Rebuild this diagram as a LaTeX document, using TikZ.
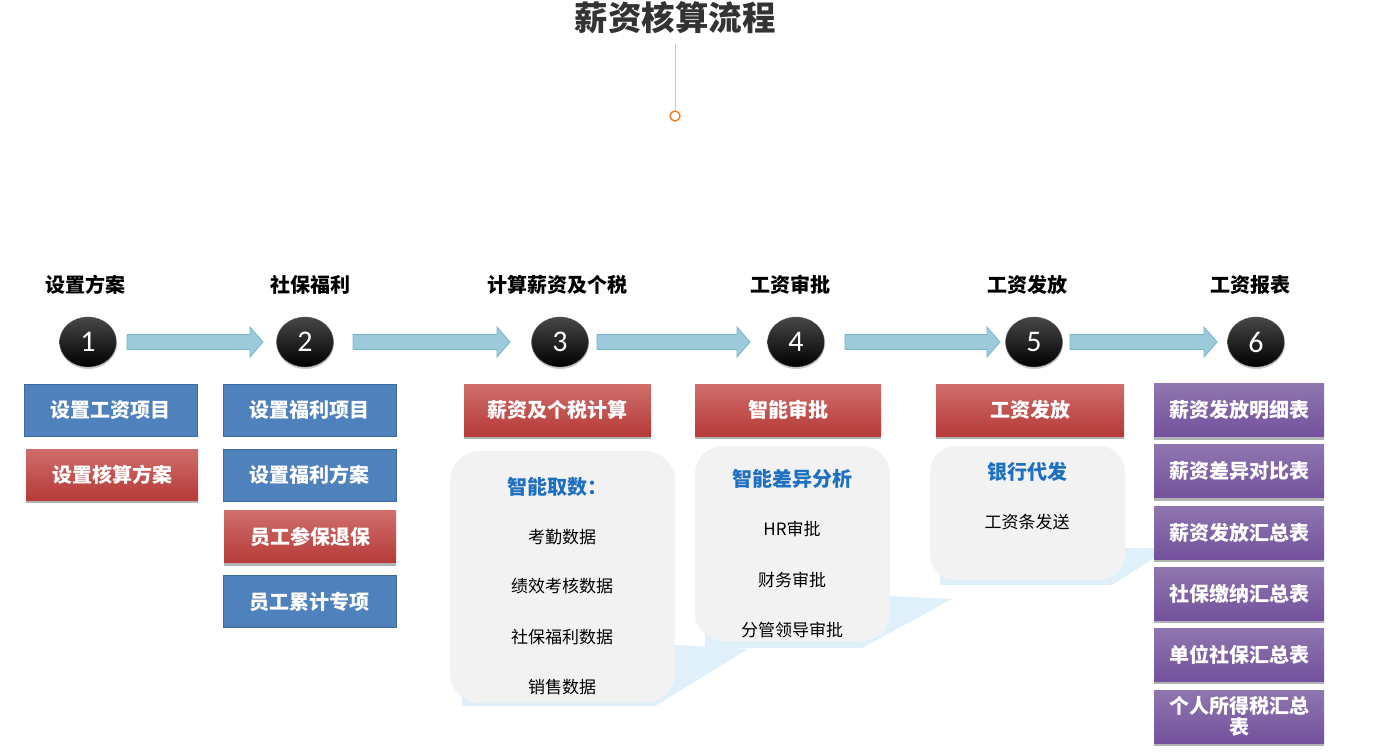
\documentclass[tikz,border=0pt]{standalone}
\usepackage{fontspec}
\setmainfont{Noto Sans CJK SC}
\newfontfamily\digitfont{Carlito}
\usetikzlibrary{shadows,calc,shapes.geometric}
\definecolor{titlegray}{HTML}{333333}
\definecolor{bluefill}{HTML}{4F81BD}
\definecolor{bluedraw}{HTML}{3C6A9F}
\definecolor{redtop}{HTML}{CF6E6C}
\definecolor{redbot}{HTML}{B63A38}
\definecolor{purtop}{HTML}{9076AF}
\definecolor{purbot}{HTML}{73519C}
\definecolor{greyfill}{HTML}{F2F2F2}
\definecolor{itemblue}{HTML}{1F70C1}
\definecolor{arrowfill}{HTML}{9DCADB}
\definecolor{arrowdraw}{HTML}{78B6CC}
\definecolor{swoosh}{HTML}{E0F0FB}
\definecolor{dotorange}{HTML}{F07A22}
\newcommand\blockarrow[2]{%
  \fill[arrowfill,draw=arrowdraw,line width=0.8pt] let \p1=(#1), \p2=(#2) in
    (\x1,\y1+7.5) -- (\x2-13,\y1+7.5) -- (\x2-13,\y1+15) -- (\x2,\y1) --
    (\x2-13,\y1-15) -- (\x2-13,\y1-7.5) -- (\x1,\y1-7.5) -- cycle;}
\begin{document}
\begin{tikzpicture}[x=1pt,y=-1pt,
  boxtext/.style={text=white,font=\bfseries\fontsize{20}{23}\selectfont,inner sep=0pt,align=center},
  bluebox/.style={boxtext,draw=bluedraw,fill=bluefill,line width=0.8pt},
  redbox/.style={boxtext,top color=redtop,bottom color=redbot,
    drop shadow={shadow xshift=0.3pt,shadow yshift=-3pt,opacity=0.3,fill=black}},
  purbox/.style={boxtext,top color=purtop,bottom color=purbot,
    drop shadow={shadow xshift=0.3pt,shadow yshift=-3pt,opacity=0.3,fill=black}},
  greybox/.style={fill=greyfill,draw=none,inner sep=0pt},
  heading/.style={font=\bfseries\fontsize{20}{23}\selectfont,text=black},
  bluehead/.style={font=\bfseries\fontsize{20}{23}\selectfont,text=itemblue},
  item/.style={font=\fontsize{17}{20}\selectfont,text=black},
  stepcirc/.style={ellipse,minimum width=57,minimum height=50,inner sep=0pt,
    top color=black!72,middle color=black,bottom color=black,draw=black!60,line width=0.4pt,
    text=white,font=\digitfont\fontsize{30}{30}\selectfont,
    drop shadow={shadow xshift=0.3pt,shadow yshift=-2pt,opacity=0.2,fill=black}}
]
\useasboundingbox (0,0) rectangle (1380,754);
\fill[white] (0,0) rectangle (1380,754);

% title
\node[font=\bfseries\fontsize{33.5}{37}\selectfont,text=titlegray] (title) at (675,18) {薪资核算流程};
\node[circle,draw=dotorange,fill=white,line width=1.4pt,minimum size=10,inner sep=0pt] (dot) at (675,116) {};
\draw[black!22,line width=0.8pt] (dot.north) -- ++(0,-66);

% light blue swooshes
\fill[swoosh] (462,706) -- (655,706) -- (748,649) -- (676,645) -- (462,690) -- cycle;
\fill[swoosh] (705,648) -- (862,648) -- (952,599) -- (889,596) -- (705,630) -- cycle;
\fill[swoosh] (940,585) -- (1112,585) -- (1170,548) -- (1124,548) -- (940,570) -- cycle;

% headings
\node[heading] (h1) at (85,285) {设置方案};
\node[heading] (h2) at (310,285) {社保福利};
\node[heading] (h3) at (557,285) {计算薪资及个税};
\node[heading] (h4) at (790,285) {工资审批};
\node[heading] (h5) at (1027,285) {工资发放};
\node[heading] (h6) at (1250,285) {工资报表};

% circles
\node[stepcirc] (c1) at (88,342) {1};
\node[stepcirc] (c2) at (305,342) {2};
\node[stepcirc] (c3) at (560,342) {3};
\node[stepcirc] (c4) at (796,342) {4};
\node[stepcirc] (c5) at (1034,342) {5};
\node[stepcirc] (c6) at (1256,342) {6};

% arrow ends
\coordinate (a1s) at ($(c1)+(39,0)$); \coordinate (a1e) at ($(c2)+(-42,0)$);
\coordinate (a2s) at ($(c2)+(48,0)$); \coordinate (a2e) at ($(c3)+(-50,0)$);
\coordinate (a3s) at ($(c3)+(37,0)$); \coordinate (a3e) at ($(c4)+(-46,0)$);
\coordinate (a4s) at ($(c4)+(49,0)$); \coordinate (a4e) at ($(c5)+(-34,0)$);
\coordinate (a5s) at ($(c5)+(36,0)$); \coordinate (a5e) at ($(c6)+(-39,0)$);
\blockarrow{a1s}{a1e}
\blockarrow{a2s}{a2e}
\blockarrow{a3s}{a3e}
\blockarrow{a4s}{a4e}
\blockarrow{a5s}{a5e}

% column 1
\node[bluebox,minimum width=173,minimum height=52] (b11) at (110.5,410) {设置工资项目};
\node[redbox,minimum width=172,minimum height=51] (b12) at (112,474.5) {设置核算方案};

% column 2
\node[bluebox,minimum width=173,minimum height=52] (b21) at (309.5,410) {设置福利项目};
\node[bluebox,minimum width=173,minimum height=52] (b22) at (309.5,475) {设置福利方案};
\node[redbox,minimum width=172,minimum height=52] (b23) at (310,536.5) {员工参保退保};
\node[bluebox,minimum width=173,minimum height=52] (b24) at (309.5,601.5) {员工累计专项};

% column 3
\node[redbox,minimum width=187,minimum height=52] (b31) at (557.5,410) {薪资及个税计算};
\node[greybox,rounded corners=30pt,minimum width=225,minimum height=252] (g3) at (562.5,577) {};
\node[bluehead] (t30) at (557,487) {智能取数：};
\node[item] (t31) at (562,537) {考勤数据};
\node[item] (t32) at (562,586) {绩效考核数据};
\node[item] (t33) at (562,637) {社保福利数据};
\node[item] (t34) at (562,687) {销售数据};

% column 4
\node[redbox,minimum width=186,minimum height=52] (b41) at (788,410) {智能审批};
\node[greybox,rounded corners=28pt,minimum width=195,minimum height=195] (g4) at (792.5,543.5) {};
\node[bluehead] (t40) at (792,479) {智能差异分析};
\node[item] (t41) at (792,529) {HR审批};
\node[item] (t42) at (792,580) {财务审批};
\node[item] (t43) at (792,630) {分管领导审批};

% column 5
\node[redbox,minimum width=188,minimum height=52] (b51) at (1030,410) {工资发放};
\node[greybox,rounded corners=26pt,minimum width=195,minimum height=134] (g5) at (1027.5,513) {};
\node[bluehead] (t50) at (1027,472) {银行代发};
\node[item] (t51) at (1027,522) {工资条发送};

% column 6
\node[purbox,minimum width=170,minimum height=53] (p1) at (1239,410) {薪资发放明细表};
\node[purbox,minimum width=170,minimum height=53] (p2) at (1239,471) {薪资差异对比表};
\node[purbox,minimum width=170,minimum height=53] (p3) at (1239,532.5) {薪资发放汇总表};
\node[purbox,minimum width=170,minimum height=53] (p4) at (1239,593.5) {社保缴纳汇总表};
\node[purbox,minimum width=170,minimum height=53] (p5) at (1239,654.5) {单位社保汇总表};
\node[purbox,minimum width=170,minimum height=53,font=\bfseries\fontsize{20}{21}\selectfont] (p6) at (1239,716.5) {个人所得税汇总\\表};
\end{tikzpicture}
\end{document}
